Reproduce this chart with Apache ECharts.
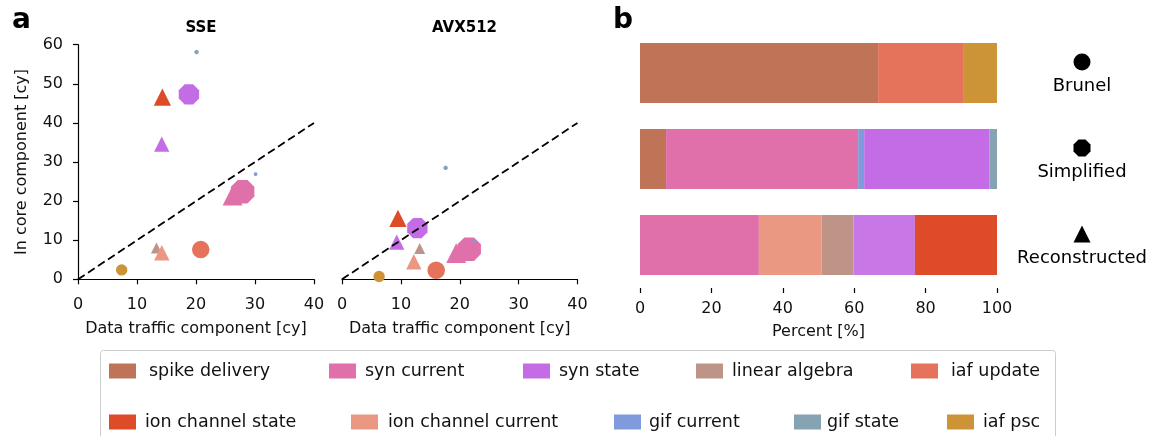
<!DOCTYPE html>
<html>
<head>
<meta charset="utf-8">
<script src="https://cdn.jsdelivr.net/npm/echarts@6/dist/echarts.min.js"></script>
<style>
  html, body { margin: 0; padding: 0; background: #fff; }
  #chart { width: 1151px; height: 436px; }
</style>
</head>
<body>
<div id="chart"></div>
<script>
// Runtime components, in legend order
const components = ['spike delivery', 'syn current', 'syn state', 'linear algebra', 'iaf update',
                    'ion channel state', 'ion channel current', 'gif current', 'gif state', 'iaf psc'];
const componentColors = ['#bf7357', '#e070aa', '#c46be6', '#bf9488', '#e5735b',
                         '#dd4b28', '#eb9882', '#7f9bdb', '#85a3b3', '#cc9436'];
// Order in which the segments are stacked inside each bar
const stackOrder = ['spike delivery', 'syn current', 'gif current', 'ion channel current', 'linear algebra',
                    'syn state', 'gif state', 'ion channel state', 'iaf update', 'iaf psc'];

// Neuron models
const models = ['Brunel', 'Simplified', 'Reconstructed'];
const modelSymbols = ['circle',
  'path://M-0.414,-1L0.414,-1L1,-0.414L1,0.414L0.414,1L-0.414,1L-1,0.414L-1,-0.414Z',
  'triangle'];

// Share of runtime per component [%], aligned with `components`
const shareBrunel        = [66.7, 0, 0, 0, 23.8, 0, 0, 0, 0, 9.5];
const shareSimplified    = [7.3, 53.8, 35.1, 0, 0, 0, 0, 1.7, 2.1, 0];
const shareReconstructed = [0, 33.3, 17.2, 8.9, 0, 23.0, 17.6, 0, 0, 0];

// [data traffic, in core] cycles per component; null = not shown
const sseBrunel        = [null, null, null, null, [20.8, 7.6], null, null, null, null, [7.4, 2.4]];
const sseSimplified    = [null, [27.9, 22.4], [18.8, 47.3], null, null, null, null, [30.1, 26.9], [20.1, 58.1], null];
const sseReconstructed = [null, [26.2, 21.4], [14.2, 34.6], [13.3, 8.0], null, [14.3, 46.6], [14.2, 6.8], null, null, null];
const avxBrunel        = [null, null, null, null, [16.0, 2.3], null, null, null, null, [6.3, 0.7]];
const avxSimplified    = [null, [21.6, 7.7], [12.8, 13.1], null, null, null, null, [22.5, 9.8], [17.6, 28.5], null];
const avxReconstructed = [null, [19.4, 6.7], [9.3, 9.5], [13.2, 7.9], null, [9.5, 15.6], [12.2, 4.5], null, null, null];

// y = x reference line end points
const diagonal = [0, 40];

const xTicks = [0, 10, 20, 30, 40];
const yTicks = [0, 10, 20, 30, 40, 50, 60];
const pctTicks = [0, 20, 40, 60, 80, 100];

const FONT = 'DejaVu Sans';
const shares = [shareBrunel, shareSimplified, shareReconstructed];
const ssePoints = [sseBrunel, sseSimplified, sseReconstructed];
const avxPoints = [avxBrunel, avxSimplified, avxReconstructed];

// marker size grows with the component's runtime share
const markerSize = share => 8 * Math.log(1 + share / 3);

function scatterSeries(points, axisIndex) {
  return components.map((name, c) => {
    const data = [];
    models.forEach((m, k) => {
      const p = points[k][c];
      if (p) data.push({ value: p, symbol: modelSymbols[k], symbolSize: markerSize(shares[k][c]) });
    });
    return {
      type: 'scatter', name, xAxisIndex: axisIndex, yAxisIndex: axisIndex,
      data, itemStyle: { color: componentColors[c], opacity: 1 }, z: 3
    };
  });
}

function diagonalSeries(axisIndex) {
  return {
    type: 'line', xAxisIndex: axisIndex, yAxisIndex: axisIndex, silent: true,
    data: [[diagonal[0], diagonal[0]], [diagonal[1], diagonal[1]]],
    symbol: 'none', lineStyle: { color: '#000', width: 1.8, type: [8, 4] }, z: 5
  };
}

const barSeries = stackOrder.map(name => {
  const c = components.indexOf(name);
  return {
    type: 'bar', name, stack: 'share', xAxisIndex: 2, yAxisIndex: 2, barWidth: 60,
    data: shares.map((s, k) => {
      const item = { value: s[c] };
      // the reconstructed model's syn state segment is drawn a shade lighter
      if (name === 'syn state' && k === 2) item.itemStyle = { color: '#c878e6' };
      return item;
    }),
    itemStyle: { color: componentColors[c] }
  };
});

const keySeries = {
  type: 'scatter', name: 'model key', xAxisIndex: 3, yAxisIndex: 3, silent: true,
  data: models.map((m, k) => ({ value: [0, m], symbol: modelSymbols[k], symbolSize: 17 })),
  itemStyle: { color: '#000', opacity: 1 },
  label: {
    show: true, position: 'bottom', distance: 7,
    formatter: p => p.value[1],
    fontFamily: FONT, fontSize: 18, color: '#000'
  }
};

const axisLineStyle = { lineStyle: { color: '#000', width: 1.2 } };
const axisTickStyle = { show: true, length: 5, lineStyle: { color: '#000', width: 1.2 } };
const labelStyle = { fontFamily: FONT, fontSize: 16, color: '#111' };

function scatterX(gridIndex) {
  return {
    type: 'value', gridIndex, min: xTicks[0], max: xTicks[xTicks.length - 1], interval: xTicks[1] - xTicks[0],
    offset: 7, axisLine: axisLineStyle, axisTick: axisTickStyle, splitLine: { show: false },
    axisLabel: Object.assign({ margin: 11 }, labelStyle),
    name: 'Data traffic component [cy]', nameLocation: 'middle', nameGap: 35,
    nameTextStyle: { fontFamily: FONT, fontSize: 16, color: '#111' }
  };
}

// Legend laid out as two rows of five entries
const legendSlots = [
  ['spike delivery', 109, 362, 8], ['syn current', 329, 362, 4], ['syn state', 523, 362, 4],
  ['linear algebra', 696, 362, 4], ['iaf update', 911, 362, 8],
  ['ion channel state', 109, 413, 4], ['ion channel current', 351, 413, 5], ['gif current', 614, 413, 3],
  ['gif state', 794, 413, 1], ['iaf psc', 947, 413, 4]
];
const legends = legendSlots.map(([name, left, top, pad]) => ({
  data: [{ name, icon: 'rect' }], left, top, padding: 0, orient: 'horizontal',
  itemWidth: 27, itemHeight: 15, selectedMode: false,
  textStyle: { fontFamily: FONT, fontSize: 17.5, color: '#111', padding: [0, 0, 0, pad] }
}));

const option = {
  animation: false,
  backgroundColor: '#fff',
  title: [
    { text: 'a', left: 7, top: 2, textStyle: { fontFamily: FONT, fontSize: 28, fontWeight: 'bold', color: '#000' } },
    { text: 'b', left: 608, top: 2, textStyle: { fontFamily: FONT, fontSize: 28, fontWeight: 'bold', color: '#000' } },
    { text: 'SSE', left: 196, top: 16, textAlign: 'center', textStyle: { fontFamily: FONT, fontSize: 15, fontWeight: 'bold', color: '#000' } },
    { text: 'AVX512', left: 459.5, top: 16, textAlign: 'center', textStyle: { fontFamily: FONT, fontSize: 15, fontWeight: 'bold', color: '#000' } }
  ],
  legend: legends,
  grid: [
    { left: 78, top: 44.7, width: 236, height: 234.6 },
    { left: 342, top: 44.7, width: 235.5, height: 234.6 },
    { left: 640, top: 30, width: 357, height: 258 },
    { left: 1040, top: 19, width: 84, height: 258 }
  ],
  xAxis: [
    scatterX(0),
    scatterX(1),
    {
      type: 'value', gridIndex: 2, min: pctTicks[0], max: pctTicks[pctTicks.length - 1], interval: pctTicks[1] - pctTicks[0],
      axisLine: axisLineStyle, axisTick: axisTickStyle, splitLine: { show: false },
      axisLabel: Object.assign({ margin: 13 }, labelStyle),
      name: 'Percent [%]', nameLocation: 'middle', nameGap: 36,
      nameTextStyle: { fontFamily: FONT, fontSize: 16, color: '#111' }
    },
    { type: 'value', gridIndex: 3, min: -1, max: 1, show: false }
  ],
  yAxis: [
    {
      type: 'value', gridIndex: 0, min: yTicks[0], max: yTicks[yTicks.length - 1], interval: yTicks[1] - yTicks[0],
      offset: 6, axisLine: axisLineStyle, axisTick: axisTickStyle, splitLine: { show: false },
      axisLabel: Object.assign({ margin: 9 }, labelStyle),
      name: 'In core component [cy]', nameLocation: 'middle', nameGap: 42,
      nameTextStyle: { fontFamily: FONT, fontSize: 16, color: '#111' }
    },
    {
      type: 'value', gridIndex: 1, min: yTicks[0], max: yTicks[yTicks.length - 1], interval: yTicks[1] - yTicks[0],
      show: false
    },
    { type: 'category', gridIndex: 2, data: models, inverse: true, show: false },
    { type: 'category', gridIndex: 3, data: models, inverse: true, show: false }
  ],
  graphic: [
    {
      type: 'rect', silent: true, z: -1,
      shape: { x: 100.5, y: 350.5, width: 955, height: 100, r: 3 },
      style: { fill: '#fff', stroke: '#cccccc', lineWidth: 1 }
    }
  ],
  series: [
    ...scatterSeries(ssePoints, 0),
    ...scatterSeries(avxPoints, 1),
    diagonalSeries(0),
    diagonalSeries(1),
    ...barSeries,
    keySeries
  ]
};

const chart = echarts.init(document.getElementById('chart'), null, { renderer: 'canvas' });
chart.setOption(option);
</script>
</body>
</html>
